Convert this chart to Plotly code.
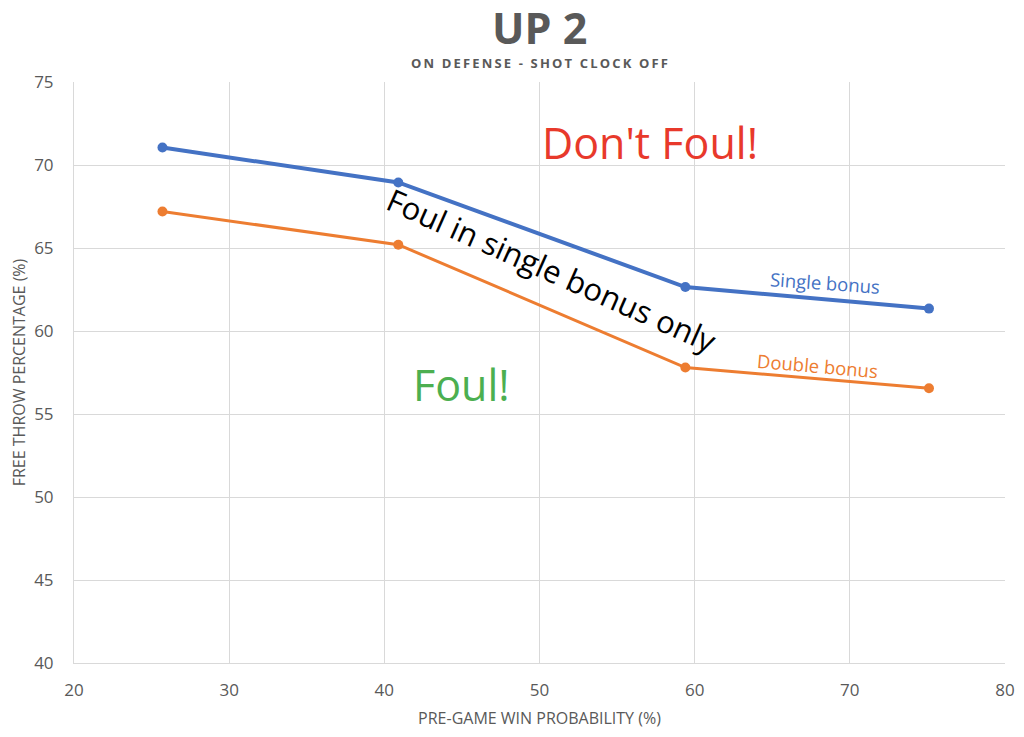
import plotly.graph_objects as go

win_prob = [25.7, 40.9, 59.4, 75.1]
single_bonus = [71.05, 68.95, 62.65, 61.35]
double_bonus = [67.2, 65.2, 57.8, 56.55]

x_ticks = [20, 30, 40, 50, 60, 70, 80]
y_ticks = [40, 45, 50, 55, 60, 65, 70, 75]

BLUE = "#4472C4"
ORANGE = "#ED7D31"
GREY = "#595959"
FONT = "Open Sans"

fig = go.Figure()
fig.add_trace(go.Scatter(x=win_prob, y=single_bonus, mode="lines+markers",
                         line=dict(color=BLUE, width=4), marker=dict(size=10, color=BLUE),
                         name="Single bonus", showlegend=False))
fig.add_trace(go.Scatter(x=win_prob, y=double_bonus, mode="lines+markers",
                         line=dict(color=ORANGE, width=3), marker=dict(size=10, color=ORANGE),
                         name="Double bonus", showlegend=False))

ann = [
    dict(x=57.1, y=71.35, text="Don't Foul!", font=dict(size=43, color="#E8392B", family=FONT), textangle=0),
    dict(x=45.0, y=56.75, text="Foul!", font=dict(size=43, color="#4CAF50", family=FONT), textangle=0),
    dict(x=50.8, y=63.7, text="Foul in single bonus only", font=dict(size=31, color="black", family=FONT), textangle=24),
    dict(x=68.4, y=62.9, text="Single bonus", font=dict(size=18.5, color=BLUE, family=FONT), textangle=4),
    dict(x=67.9, y=57.9, text="Double bonus", font=dict(size=18.5, color=ORANGE, family=FONT), textangle=5),
]
for a in ann:
    fig.add_annotation(xref="x", yref="y", showarrow=False, **a)

subtitle = "ON DEFENSE - SHOT CLOCK OFF"
spaced = "\u2009".join(list(subtitle))
fig.add_annotation(xref="paper", yref="paper", x=0.5, y=1, yshift=19, showarrow=False,
                   xanchor="center", yanchor="middle",
                   text="<b>" + spaced + "</b>",
                   font=dict(size=13, color=GREY, family=FONT))
fig.add_annotation(xref="paper", yref="paper", x=0.5, y=1, yshift=55, showarrow=False,
                   xanchor="center", yanchor="middle",
                   text="<b>UP 2</b>",
                   font=dict(size=43, color=GREY, family=FONT))

fig.update_layout(
    width=1016, height=729,
    margin=dict(l=66, r=19, t=74, b=74),
    paper_bgcolor="white", plot_bgcolor="white",
    font=dict(family=FONT, color=GREY),
)
fig.update_xaxes(range=[20, 80], tickvals=x_ticks, showgrid=True, gridcolor="#D9D9D9", gridwidth=1,
                 zeroline=False, showline=True, linecolor="#D9D9D9", mirror=False, automargin=False,
                 ticklabelstandoff=12,
                 tickfont=dict(size=17, color=GREY),
                 title=dict(text="PRE-GAME WIN PROBABILITY (%)", font=dict(size=16, color=GREY), standoff=12))
fig.update_yaxes(range=[40, 75], tickvals=y_ticks, showgrid=True, gridcolor="#D9D9D9", gridwidth=1,
                 zeroline=False, showline=True, linecolor="#D9D9D9", automargin=False,
                 ticklabelstandoff=16,
                 tickfont=dict(size=17, color=GREY),
                 title=dict(text="FREE THROW PERCENTAGE (%)", font=dict(size=16, color=GREY), standoff=5))

fig.write_html("out.html")
